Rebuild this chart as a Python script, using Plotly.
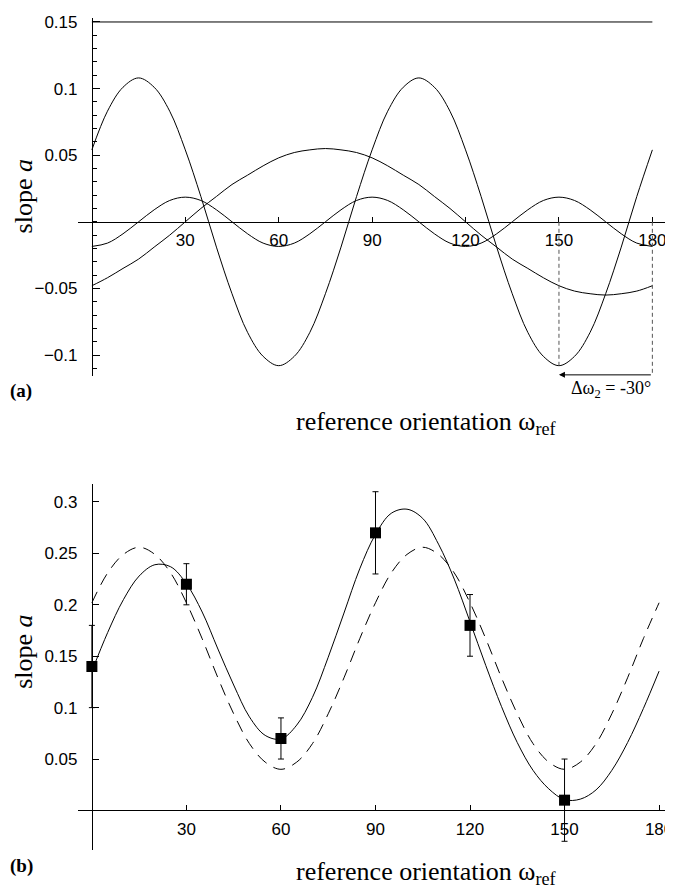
import plotly.graph_objects as go

# ---------------- data ----------------
omega = list(range(0, 181, 5))  # reference orientation samples (deg)

# panel (a): three component curves
curve_a1 = [0.054, 0.083, 0.101, 0.108, 0.101, 0.083, 0.054, 0.019, -0.019, -0.054,
            -0.083, -0.101, -0.108, -0.101, -0.083, -0.054, -0.019, 0.019, 0.054, 0.083,
            0.101, 0.108, 0.101, 0.083, 0.054, 0.019, -0.019, -0.054, -0.083, -0.101,
            -0.108, -0.101, -0.083, -0.054, -0.019, 0.019, 0.054]
curve_a2 = [-0.0185, -0.016, -0.009, 0.0, 0.009, 0.016, 0.0185, 0.016, 0.009, 0.0,
            -0.009, -0.016, -0.0185, -0.016, -0.009, 0.0, 0.009, 0.016, 0.0185, 0.016,
            0.009, 0.0, -0.009, -0.016, -0.0185, -0.016, -0.009, 0.0, 0.009, 0.016,
            0.0185, 0.016, 0.009, 0.0, -0.009, -0.016, -0.0185]
curve_a3 = [-0.048, -0.042, -0.035, -0.028, -0.019, -0.010, 0.0, 0.010, 0.019, 0.028,
            0.035, 0.042, 0.048, 0.052, 0.054, 0.055, 0.054, 0.052, 0.048, 0.042,
            0.035, 0.028, 0.019, 0.010, 0.0, -0.010, -0.019, -0.028, -0.035, -0.042,
            -0.048, -0.052, -0.054, -0.055, -0.054, -0.052, -0.048]
const_level_x = [0, 180]
const_level_y = [0.15, 0.15]

# annotation: shift between 180 and 150
shift_from = 180
shift_to = 150
shift_min_y = -0.108
arrow_y = -0.1149

# panel (b): fits and measurements
fit_dashed = [0.202, 0.231, 0.249, 0.256, 0.249, 0.231, 0.202, 0.167, 0.129, 0.094,
              0.065, 0.047, 0.040, 0.047, 0.065, 0.094, 0.129, 0.167, 0.202, 0.231,
              0.249, 0.256, 0.249, 0.231, 0.202, 0.167, 0.129, 0.094, 0.065, 0.047,
              0.040, 0.047, 0.065, 0.094, 0.129, 0.167, 0.202]
fit_solid = [0.1355, 0.173, 0.205, 0.228, 0.239, 0.237, 0.2205, 0.193, 0.157, 0.122,
             0.091, 0.073, 0.0695, 0.083, 0.110, 0.149, 0.192, 0.235, 0.2685, 0.289,
             0.293, 0.284, 0.259, 0.225, 0.1835, 0.141, 0.101, 0.066, 0.039, 0.021,
             0.0105, 0.011, 0.020, 0.039, 0.066, 0.099, 0.1355]
meas_x = [0, 30, 60, 90, 120, 150]
meas_y = [0.14, 0.22, 0.07, 0.27, 0.18, 0.01]
meas_err = [0.04, 0.02, 0.02, 0.04, 0.03, 0.04]

x_ticks = [30, 60, 90, 120, 150, 180]
ya_ticks = [-0.1, -0.05, 0.05, 0.1, 0.15]
ya_ticktext = ["\u22120.1", "\u22120.05", "0.05", "0.1", "0.15"]
yb_ticks = [0.05, 0.1, 0.15, 0.2, 0.25, 0.3]
yb_ticktext = ["0.05", "0.1", "0.15", "0.2", "0.25", "0.3"]

# ---------------- figure ----------------
OFF = 8            # page body margin in the browser
W, H = 673 - OFF, 891 - OFF
def px(p):
    return (p - OFF) / W
def py(p):
    return 1 - (p - OFF) / H

SANS = "Liberation Sans, Arial, sans-serif"
SERIF = "Liberation Serif, Times New Roman, serif"
line = dict(color="black", width=1)

fig = go.Figure()
for ys in (curve_a1, curve_a2, curve_a3):
    fig.add_trace(go.Scatter(x=omega, y=ys, mode="lines", line=dict(color="black", width=1, shape="spline"),
                             xaxis="x", yaxis="y", showlegend=False, hoverinfo="skip"))
fig.add_trace(go.Scatter(x=const_level_x, y=const_level_y, mode="lines", line=line,
                         xaxis="x", yaxis="y", showlegend=False))

fig.add_trace(go.Scatter(x=omega, y=fit_dashed, mode="lines",
                         line=dict(color="black", width=1, dash="12px,8px", shape="spline"),
                         xaxis="x2", yaxis="y2", showlegend=False))
fig.add_trace(go.Scatter(x=omega, y=fit_solid, mode="lines",
                         line=dict(color="black", width=1, shape="spline"),
                         xaxis="x2", yaxis="y2", showlegend=False))
fig.add_trace(go.Scatter(x=meas_x, y=meas_y, mode="markers",
                         marker=dict(symbol="square", size=11, color="black"),
                         error_y=dict(type="data", array=meas_err, visible=True,
                                      color="black", thickness=1, width=3),
                         xaxis="x2", yaxis="y2", showlegend=False, cliponaxis=False))

common = dict(showline=True, linecolor="black", linewidth=1, ticks="inside", tickcolor="black",
              showgrid=False, zeroline=False, anchor="free", ticklabeloverflow="allow",
              tickfont=dict(family=SANS, size=17, color="black"))

fig.update_layout(
    width=W, height=H, margin=dict(l=0, r=0, t=0, b=0),
    paper_bgcolor="white", plot_bgcolor="white",
    xaxis=dict(domain=[px(78), px(668)], range=[-4.49, 184.7], position=py(218),
               tickmode="array", tickvals=x_ticks, ticklen=5, ticklabelstandoff=3, **common),
    yaxis=dict(domain=[py(373), py(13)], range=[-0.1157, 0.153], position=px(92),
               tickmode="array", tickvals=ya_ticks, ticktext=ya_ticktext, ticklen=7,
               ticklabelstandoff=11,
               minor=dict(ticks="inside", ticklen=4, tickcolor="black", tickmode="array",
                          tickvals=[round(-0.11 + 0.01 * i, 2) for i in range(27)]),
               **common),
    xaxis2=dict(domain=[px(78), 1.0], range=[-4.44, 184.1], position=py(810),
                tickmode="array", tickvals=x_ticks, ticklen=5, ticklabelstandoff=3, **common),
    yaxis2=dict(domain=[py(850), py(482)], range=[-0.0387, 0.3172], position=px(92),
                tickmode="array", tickvals=yb_ticks, ticktext=yb_ticktext, ticklen=6,
                ticklabelstandoff=11, **common),
)

dash_style = dict(color="#555555", width=1, dash="4px,3px")
fig.add_shape(type="line", xref="x", yref="y", x0=shift_to, x1=shift_to, y0=0, y1=shift_min_y, line=dash_style)
fig.add_shape(type="line", xref="x", yref="y", x0=shift_from, x1=shift_from, y0=0, y1=arrow_y, line=dash_style)

fig.add_annotation(xref="x", yref="y", axref="x", ayref="y", x=shift_to, y=arrow_y,
                   ax=shift_from, ay=arrow_y, showarrow=True, arrowhead=2, arrowsize=1.2,
                   arrowwidth=1, arrowcolor="black", text="")
fig.add_annotation(xref="paper", yref="paper", x=px(612), y=py(387), xanchor="center", yanchor="middle",
                   text="\u0394\u03c9<sub>2</sub> = -30\u00b0", showarrow=False,
                   font=dict(family=SERIF, size=18, color="black"))

title_font = dict(family=SERIF, size=26, color="black")
for yy in (420, 873):
    fig.add_annotation(xref="paper", yref="paper", x=px(427), y=py(yy), xanchor="center", yanchor="middle",
                       text="reference orientation \u03c9<sub>ref</sub>", showarrow=False, font=title_font)
for yy in (193, 651):
    fig.add_annotation(xref="paper", yref="paper", x=0, y=py(yy), xanchor="left", yanchor="middle",
                       text="slope <i>a</i>", textangle=-90, showarrow=False, font=title_font,
                       borderpad=0)
for lab, yy in (("(a)", 388), ("(b)", 866)):
    fig.add_annotation(xref="paper", yref="paper", x=0, y=py(yy), xanchor="left", yanchor="middle",
                       text="<b>" + lab + "</b>", showarrow=False,
                       font=dict(family=SERIF, size=19, color="black"))

fig.write_html("out.html")
